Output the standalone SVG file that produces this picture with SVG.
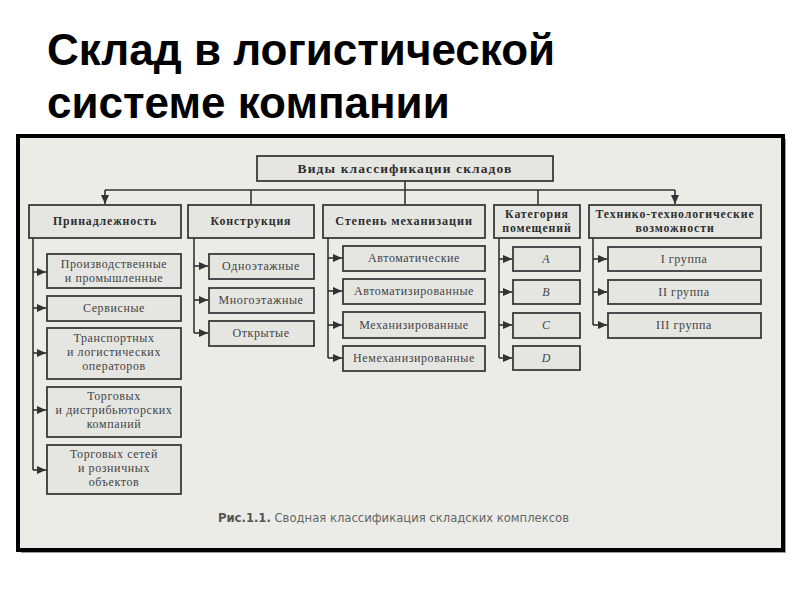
<svg xmlns="http://www.w3.org/2000/svg" width="800" height="600" viewBox="0 0 800 600">
<style>
.title{font-family:"Liberation Sans",Arial,sans-serif;font-weight:bold;font-size:44px;fill:#000}
.box{fill:#e5e5e1;stroke:#3a3a3a;stroke-width:1.8}
.hd{font-family:"Liberation Serif","Times New Roman",serif;font-weight:bold;font-size:11.8px;letter-spacing:0.9px;fill:#2e2e2e;text-anchor:middle}
.tx{font-family:"Liberation Serif","Times New Roman",serif;font-size:12px;letter-spacing:0.6px;fill:#444;text-anchor:middle}
.it{font-family:"Liberation Serif","Times New Roman",serif;font-style:italic;font-size:12px;fill:#444;text-anchor:middle}
.ln{stroke:#333;stroke-width:1.6;fill:none}
.ar{stroke:#333;stroke-width:1.6;fill:none;marker-end:url(#arr)}
.cap{font-family:"DejaVu Sans",Verdana,sans-serif;font-size:11.6px;fill:#666}
</style>
<defs>
<marker id="arr" markerWidth="10" markerHeight="9" refX="9" refY="4.5" orient="auto" markerUnits="userSpaceOnUse">
<path d="M0,0.5 L9,4.5 L0,8.5 z" fill="#333"/>
</marker>
</defs>
<rect width="800" height="600" fill="#ffffff"/>
<text class="title" x="47" y="65">Склад в логистической</text>
<text class="title" x="47" y="118">системе компании</text>

<rect x="21" y="139" width="765" height="414" fill="#9a9a9a"/>
<rect x="18" y="136" width="765" height="414" fill="#ebebe7" stroke="#000" stroke-width="4"/>

<g id="connectors">
<line class="ln" x1="405" y1="181" x2="405" y2="205"/>
<line class="ln" x1="105" y1="190" x2="675" y2="190"/>
<line class="ar" x1="105" y1="190" x2="105" y2="204"/>
<line class="ar" x1="675" y1="190" x2="675" y2="204"/>
<line class="ln" x1="251" y1="190" x2="251" y2="205"/>
<line class="ln" x1="538" y1="190" x2="538" y2="205"/>

<line class="ln" x1="33" y1="238" x2="33" y2="470"/>
<line class="ar" x1="33" y1="272" x2="46" y2="272"/>
<line class="ar" x1="33" y1="308" x2="46" y2="308"/>
<line class="ar" x1="33" y1="353" x2="46" y2="353"/>
<line class="ar" x1="33" y1="410" x2="46" y2="410"/>
<line class="ar" x1="33" y1="470" x2="46" y2="470"/>

<line class="ln" x1="194" y1="238" x2="194" y2="333"/>
<line class="ar" x1="194" y1="266" x2="208" y2="266"/>
<line class="ar" x1="194" y1="300" x2="208" y2="300"/>
<line class="ar" x1="194" y1="333" x2="208" y2="333"/>

<line class="ln" x1="328" y1="238" x2="328" y2="358"/>
<line class="ar" x1="328" y1="258" x2="342" y2="258"/>
<line class="ar" x1="328" y1="291" x2="342" y2="291"/>
<line class="ar" x1="328" y1="325" x2="342" y2="325"/>
<line class="ar" x1="328" y1="358" x2="342" y2="358"/>

<line class="ln" x1="499" y1="238" x2="499" y2="358"/>
<line class="ar" x1="499" y1="259" x2="512" y2="259"/>
<line class="ar" x1="499" y1="292" x2="512" y2="292"/>
<line class="ar" x1="499" y1="325" x2="512" y2="325"/>
<line class="ar" x1="499" y1="358" x2="512" y2="358"/>

<line class="ln" x1="593" y1="238" x2="593" y2="325"/>
<line class="ar" x1="593" y1="259" x2="607" y2="259"/>
<line class="ar" x1="593" y1="292" x2="607" y2="292"/>
<line class="ar" x1="593" y1="325" x2="607" y2="325"/>
</g>

<g id="root"><rect class="box" x="257" y="156" width="296" height="25"/><text class="hd" x="405" y="173" style="font-size:13.5px;letter-spacing:1.1px">Виды классификации складов</text></g>

<g id="h1"><rect class="box" x="29" y="205" width="152" height="33"/><text class="hd" x="105" y="225">Принадлежность</text></g>
<g id="h2"><rect class="box" x="188" y="205" width="126" height="33"/><text class="hd" x="251" y="225">Конструкция</text></g>
<g id="h3"><rect class="box" x="323" y="205" width="162" height="33"/><text class="hd" x="404" y="225" style="font-size:12.2px">Степень механизации</text></g>
<g id="h4"><rect class="box" x="494" y="205" width="86" height="33"/><text class="hd" x="537" y="218">Категория</text><text class="hd" x="537" y="232">помещений</text></g>
<g id="h5"><rect class="box" x="589" y="205" width="172" height="33"/><text class="hd" x="675" y="218">Технико-технологические</text><text class="hd" x="675" y="232">возможности</text></g>

<g id="p1"><rect class="box" x="47" y="254" width="134" height="34"/><text class="tx" x="114" y="268">Производственные</text><text class="tx" x="114" y="282">и промышленные</text></g>
<g id="p2"><rect class="box" x="47" y="296" width="134" height="25"/><text class="tx" x="114" y="312">Сервисные</text></g>
<g id="p3"><rect class="box" x="47" y="328" width="134" height="51"/><text class="tx" x="114" y="342">Транспортных</text><text class="tx" x="114" y="356">и логистических</text><text class="tx" x="114" y="370">операторов</text></g>
<g id="p4"><rect class="box" x="47" y="387" width="134" height="50"/><text class="tx" x="114" y="400">Торговых</text><text class="tx" x="114" y="414">и дистрибьюторских</text><text class="tx" x="114" y="428">компаний</text></g>
<g id="p5"><rect class="box" x="47" y="445" width="134" height="49"/><text class="tx" x="114" y="458">Торговых сетей</text><text class="tx" x="114" y="472">и розничных</text><text class="tx" x="114" y="486">объектов</text></g>

<g id="k1"><rect class="box" x="209" y="254" width="105" height="25"/><text class="tx" x="261" y="270">Одноэтажные</text></g>
<g id="k2"><rect class="box" x="209" y="288" width="105" height="25"/><text class="tx" x="261" y="304">Многоэтажные</text></g>
<g id="k3"><rect class="box" x="209" y="321" width="105" height="25"/><text class="tx" x="261" y="337">Открытые</text></g>

<g id="s1"><rect class="box" x="343" y="246" width="142" height="25"/><text class="tx" x="414" y="262">Автоматические</text></g>
<g id="s2"><rect class="box" x="343" y="279" width="142" height="25"/><text class="tx" x="414" y="295">Автоматизированные</text></g>
<g id="s3"><rect class="box" x="343" y="312" width="142" height="26"/><text class="tx" x="414" y="329">Механизированные</text></g>
<g id="s4"><rect class="box" x="343" y="346" width="142" height="25"/><text class="tx" x="414" y="362">Немеханизированные</text></g>

<g id="c1"><rect class="box" x="513" y="247" width="67" height="24"/><text class="it" x="546" y="263">A</text></g>
<g id="c2"><rect class="box" x="513" y="280" width="67" height="24"/><text class="it" x="546" y="296">B</text></g>
<g id="c3"><rect class="box" x="513" y="313" width="67" height="25"/><text class="it" x="546" y="329">C</text></g>
<g id="c4"><rect class="box" x="513" y="346" width="67" height="24"/><text class="it" x="546" y="362">D</text></g>

<g id="t1"><rect class="box" x="608" y="247" width="153" height="24"/><text class="tx" x="684" y="263">I группа</text></g>
<g id="t2"><rect class="box" x="608" y="280" width="153" height="24"/><text class="tx" x="684" y="296">II группа</text></g>
<g id="t3"><rect class="box" x="608" y="313" width="153" height="25"/><text class="tx" x="684" y="329">III группа</text></g>

<text class="cap" x="218" y="522"><tspan font-weight="bold" fill="#555">Рис.1.1.</tspan> Сводная классификация складских комплексов</text>
</svg>
